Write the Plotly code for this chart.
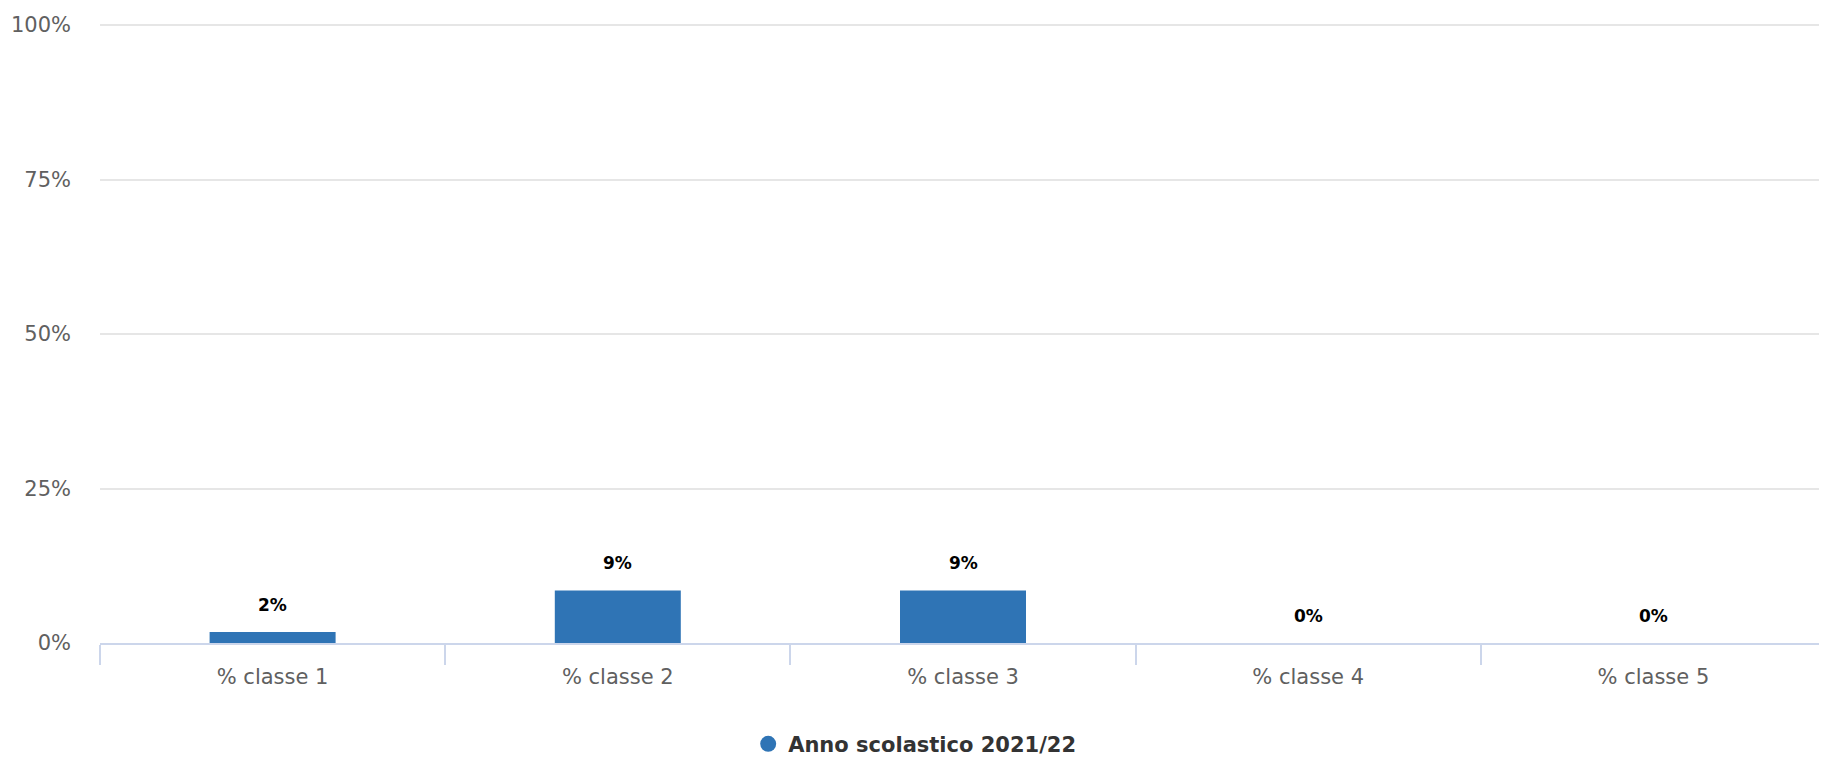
import plotly.graph_objects as go

categories = ["% classe 1", "% classe 2", "% classe 3", "% classe 4", "% classe 5"]
values = [1.8, 8.5, 8.5, 0, 0]
series_name = "Anno scolastico 2021/22"
y_ticks = [0, 25, 50, 75, 100]

bar_color = "#2f74b5"
font_family = "DejaVu Sans"

fig = go.Figure()
fig.add_trace(go.Bar(
    x=categories, y=values, marker=dict(color=bar_color, line=dict(width=0)),
    width=0.365, showlegend=False, hoverinfo="skip",
))
# legend entry drawn as a circle
fig.add_trace(go.Scatter(
    x=[categories[0]], y=[None], mode="markers", name=series_name,
    marker=dict(symbol="circle", size=16, color=bar_color), showlegend=True,
))

annotations = []
for c, v in zip(categories, values):
    annotations.append(dict(
        x=c, y=v, xref="x", yref="y", text="<b>%d%%</b>" % round(v + 1e-9),
        showarrow=False, yshift=27, yanchor="middle",
        font=dict(family=font_family, size=17, color="#000000"),
    ))

# page body has an 8px margin, so the figure is sized to fit the window
fig.update_layout(
    width=1819, height=755,
    margin=dict(l=92, r=1, t=14, b=120, autoexpand=False),
    plot_bgcolor="white", paper_bgcolor="white",
    font=dict(family=font_family),
    annotations=annotations,
    showlegend=True,
    legend=dict(
        orientation="h", x=0.472, xanchor="center", y=-0.163, yanchor="middle",
        font=dict(family=font_family, size=21, color="#333333", weight="bold"),
        itemsizing="trace",
    ),
    xaxis=dict(
        type="category", showgrid=False, showline=True, linecolor="#ccd6eb", linewidth=2,
        ticks="outside", tickson="boundaries", ticklen=20, tickcolor="#ccd6eb", tickwidth=2,
        tickfont=dict(family=font_family, size=21, color="#606060"),
        ticklabelstandoff=14, automargin=False,
        range=[-0.5, 4.5], fixedrange=True,
    ),
    yaxis=dict(
        range=[0, 100.5], tickvals=y_ticks, ticktext=["%d%%" % t for t in y_ticks],
        showgrid=True, gridcolor="#e6e6e6", gridwidth=1.5, zeroline=False,
        ticks="", ticklabelstandoff=28, automargin=False,
        tickfont=dict(family=font_family, size=21, color="#606060"),
        fixedrange=True,
    ),
)

fig.write_html("out.html")
